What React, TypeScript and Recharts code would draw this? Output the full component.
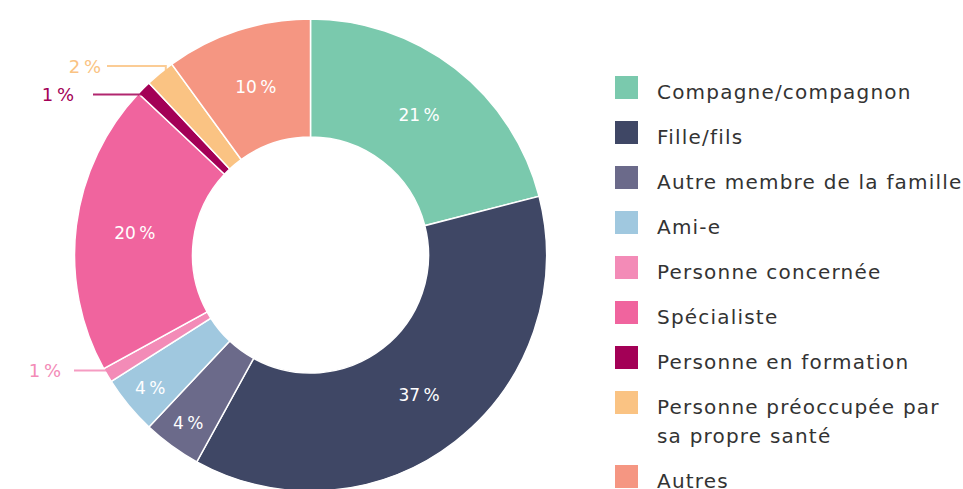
import { PieChart, Pie, Cell } from 'recharts'

const NAMES = [
  'Compagne/compagnon',
  'Fille/fils',
  'Autre membre de la famille',
  'Ami-e',
  'Personne concernée',
  'Spécialiste',
  'Personne en formation',
  'Personne préoccupée par sa propre santé',
  'Autres',
]

const VALUES = [21, 37, 4, 4, 1, 20, 1, 2, 10]

const COLORS = [
  '#7ac9ad', // teal
  '#3f4765', // navy
  '#6b6a8a', // slate
  '#a0c8df', // light blue
  '#f38bb7', // light pink
  '#f0649e', // pink
  '#a30056', // magenta
  '#fac383', // peach
  '#f59682', // salmon
]

const data = NAMES.map((name, i) => ({ name, value: VALUES[i] }))

const FONT = '"DejaVu Sans", sans-serif'
const RAD = Math.PI / 180

// leader line layout for the tiny slices (outside labels)
const OUTSIDE: Record<number, { endX: number; textX: number; elbowY?: number }> = {
  4: { endX: 74, textX: 61 },
  6: { endX: 93, textX: 74 },
  7: { endX: 107, textX: 101, elbowY: 66 },
}

const renderLabel = (props: any) => {
  const { cx, cy, midAngle, innerRadius, outerRadius, percent, index, value } = props
  const cos = Math.cos(-midAngle * RAD)
  const sin = Math.sin(-midAngle * RAD)
  const text = `${value}\u202F%`

  const out = OUTSIDE[index]
  if (out) {
    const r = outerRadius - 9
    const ax = cx + r * cos
    const ay = cy + r * sin
    const y = out.elbowY ?? ay
    const pts = out.elbowY != null ? `${ax},${ay} ${ax},${y} ${out.endX},${y}` : `${ax},${ay} ${out.endX},${y}`
    return (
      <g>
        <polyline points={pts} fill="none" stroke={COLORS[index]} strokeOpacity={0.85} strokeWidth={2} />
        <text
          x={out.textX}
          y={y}
          textAnchor="end"
          dominantBaseline="central"
          fill={COLORS[index]}
          fontSize={18}
          fontFamily={FONT}
        >
          {text}
        </text>
      </g>
    )
  }

  const r = percent >= 0.1 ? (innerRadius + outerRadius) / 2 : outerRadius - 28
  return (
    <text
      x={cx + r * cos}
      y={cy + r * sin}
      textAnchor="middle"
      dominantBaseline="central"
      fill="#ffffff"
      fontSize={17}
      fontFamily={FONT}
    >
      {text}
    </text>
  )
}

export default function App() {
  return (
    <div style={{ position: 'absolute', left: 0, top: 0, width: 963, height: 489, background: '#fff' }}>
      <PieChart width={963} height={489} margin={{ top: 0, right: 0, bottom: 0, left: 0 }}>
        <Pie
          data={data}
          dataKey="value"
          nameKey="name"
          cx={310.5}
          cy={255}
          innerRadius={118}
          outerRadius={236}
          startAngle={90}
          endAngle={-270}
          stroke="#ffffff"
          strokeWidth={1.5}
          label={renderLabel}
          labelLine={false}
          isAnimationActive={false}
        >
          {data.map((_, i) => (
            <Cell key={`cell-${i}`} fill={COLORS[i]} />
          ))}
        </Pie>
      </PieChart>

      <div
        style={{
          position: 'absolute',
          left: 615,
          top: 76,
          width: 348,
          fontFamily: FONT,
          fontSize: 20,
          letterSpacing: 1.2,
          color: '#333333',
        }}
      >
        {NAMES.map((name, i) => (
          <div key={name} style={{ display: 'flex', alignItems: 'flex-start', marginBottom: 14 }}>
            <div style={{ width: 23, height: 23, flex: '0 0 23px', background: COLORS[i] }} />
            <div style={{ marginLeft: 19, marginTop: 2, lineHeight: '29px', width: 308 }}>{name}</div>
          </div>
        ))}
      </div>
    </div>
  )
}
